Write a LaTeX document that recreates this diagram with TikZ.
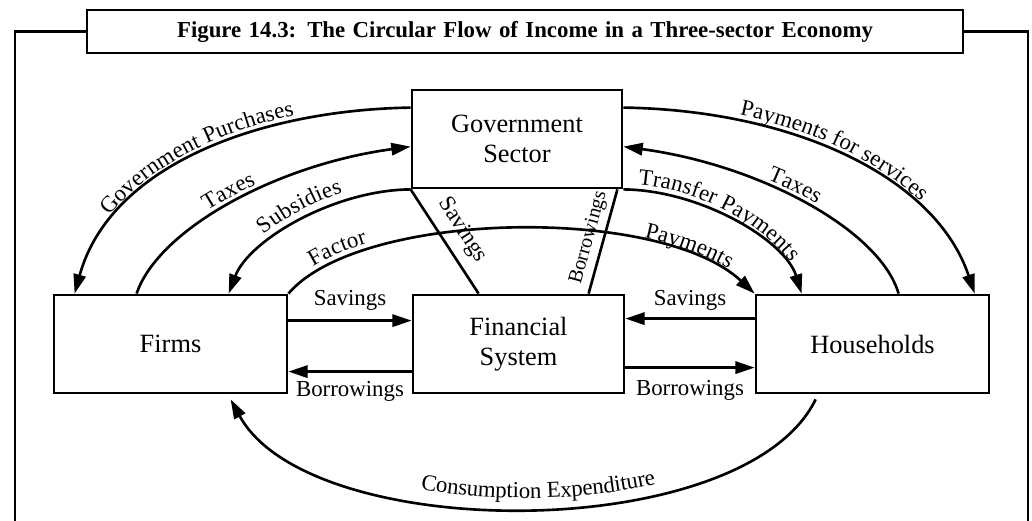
\documentclass[tikz,border=0pt]{standalone}
\usepackage{fontspec}
\setmainfont{Liberation Serif}
\usetikzlibrary{arrows.meta,calc,decorations.text}
\newcommand\labfont{\fontsize{13}{15}\selectfont}
\newcommand\boxfont{\fontsize{15}{17}\selectfont}
\begin{document}
\begin{tikzpicture}[x=0.02cm,y=-0.02cm,
  line width=1.5pt,
  sector/.style={draw, rectangle, line width=1.6pt, align=center, font=\boxfont, inner sep=0pt},
  flow/.style={-{Triangle[length=11pt,width=7pt]}},
  lab/.style={font=\labfont, inner sep=2pt},
  framed/.style={line width=1.5pt},
]
\useasboundingbox (0,0) rectangle (1032,521);

% title and frame
\node[draw, framed, minimum width=17.52cm, minimum height=0.86cm, inner sep=0pt] (title) at (525,31.5)
  {\bfseries\fontsize{13}{15}\selectfont\makebox[13.92cm][s]{Figure 14.3: The Circular Flow of Income in a Three-sector Economy}};
\coordinate (fl) at (15,522);
\coordinate (fr) at (1028,522);
\draw[framed] (title.west) -- (title.west -| fl) -- (fl);
\draw[framed] (title.east) -- (title.east -| fr) -- (fr);

% sectors
\node[sector, minimum width=4.2cm, minimum height=1.96cm] (gov) at (517,139) {Government\\Sector};
\node[sector, minimum width=4.66cm, minimum height=1.96cm] (firms) at (170.5,344) {Firms};
\node[sector, minimum width=4.22cm, minimum height=1.96cm] (fin) at (518.5,344) {Financial\\System};
\node[sector, minimum width=4.66cm, minimum height=1.96cm] (hh) at (872.5,344) {Households};

% straight flows
\draw[flow] ($(firms.north east)+(0,27)$) -- node[lab, above=3pt]{Savings} ($(fin.north west)+(0,27)$);
\draw[flow] ($(fin.north west)+(0,78)$) -- node[lab, below=3pt]{Borrowings} ($(firms.north east)+(0,78)$);
\draw[flow] ($(hh.north west)+(0,25)$) -- node[lab, above=2pt]{Savings} ($(fin.north east)+(0,25)$);
\draw[flow] ($(fin.north east)+(0,74)$) -- node[lab, below=4.5pt]{Borrowings} ($(hh.north west)+(0,74)$);

% government - financial system
\draw (gov.south west) -- node[lab, sloped, above=3.5pt]{Savings} ($(fin.north west)+(67,0)$);
\draw ($(fin.north west)+(177,0)$) -- node[sloped, above=1.5pt, inner sep=1pt, font=\fontsize{11.5}{13}\selectfont]{Borrowings} ($(gov.south east)+(-6,0)$);

% left curves
\draw[flow, postaction={decorate, decoration={text along path, reverse path, raise=3pt,
    text align={left, left indent=48pt}, text={|\labfont|Government Purchases}}}]
  ($(gov.north west)+(0,19)$) .. controls (260,110) and (110,165) .. ($(firms.north west)+(22,0)$);
\draw[flow, postaction={decorate, decoration={text along path, raise=3pt,
    text align={center, right indent=28pt}, text={|\labfont|Taxes}}}]
  ($(firms.north west)+(84,0)$) .. controls (158,230) and (275,165) .. ($(gov.north west)+(0,58)$);
\draw[flow, postaction={decorate, decoration={text along path, reverse path, raise=5pt,
    text align=center, text={|\labfont|Subsidies}}}]
  (gov.south west) .. controls (334,190) and (249,240) .. ($(firms.north west)+(176,0)$);

% factor payments
\draw[flow,
  postaction={decorate, decoration={text along path, raise=3pt,
    text align={left, left indent=20pt}, text={|\labfont|Factor}}},
  postaction={decorate, decoration={text along path, raise=3pt,
    text align={right, right indent=20pt}, text={|\labfont|Payments}}}]
  (firms.north east) .. controls (360,210) and (660,205) .. (hh.north west);

% right curves
\draw[flow, postaction={decorate, decoration={text along path, raise=3pt,
    text align={left, left indent=8pt}, text={|\labfont|Transfer Payments}}}]
  (gov.south east) .. controls (700,190) and (785,240) .. ($(hh.north west)+(47,0)$);
\draw[flow, postaction={decorate, decoration={text along path, reverse path, raise=3pt,
    text align={center, left indent=14pt}, text={|\labfont|Taxes}}}]
  ($(hh.north west)+(144,0)$) .. controls (880,230) and (760,165) .. ($(gov.north east)+(0,58)$);
\draw[flow, postaction={decorate, decoration={text along path, raise=3pt,
    text align={left, left indent=66pt}, text={|\labfont|Payments for services}}}]
  ($(gov.north east)+(0,19)$) .. controls (790,110) and (935,175) .. ($(hh.north west)+(220,0)$);

% consumption expenditure
\draw[flow, postaction={decorate, decoration={text along path, reverse path, raise=6pt,
    text align={center, left indent=17pt}, text={|\labfont|Consumption Expenditure}}}]
  ($(hh.south west)+(61,5)$) .. controls (745,545) and (310,545) .. ($(firms.south west)+(178,5)$);
\end{tikzpicture}
\end{document}
